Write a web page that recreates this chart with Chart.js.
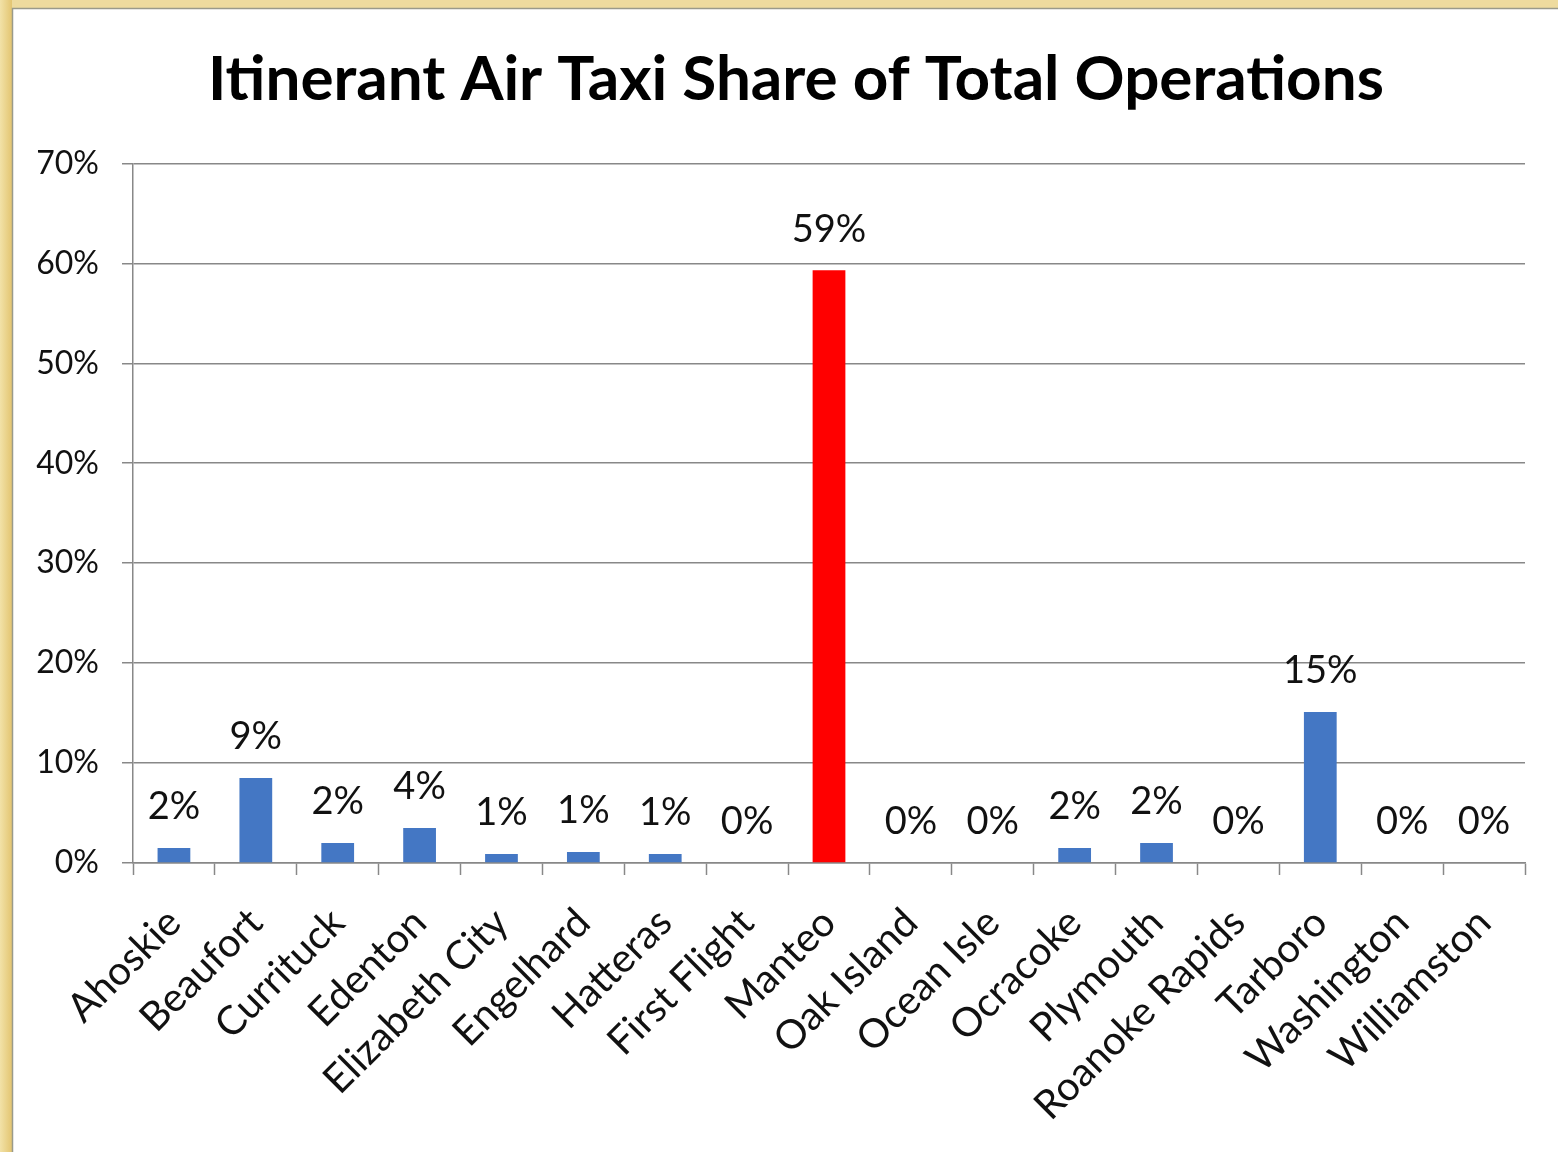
<!DOCTYPE html>
<html>
<head>
<meta charset="utf-8">
<script src="https://cdn.jsdelivr.net/npm/chart.js@4/dist/chart.umd.min.js"></script>
<style>
  html, body { margin: 0; padding: 0; background: #ecd596; }
  #wrap { width: 1558px; height: 1152px; position: relative; }
  canvas { display: block; }
</style>
</head>
<body>
<div id="wrap"><canvas id="c" width="1558" height="1152"></canvas></div>
<script>
// ---- data ----
const categories = ['Ahoskie','Beaufort','Currituck','Edenton','Elizabeth City','Engelhard','Hatteras','First Flight','Manteo','Oak Island','Ocean Isle','Ocracoke','Plymouth','Roanoke Rapids','Tarboro','Washington','Williamston'];
const shares = [1.5, 8.5, 2.0, 3.5, 0.9, 1.1, 0.9, 0, 59.3, 0, 0, 1.5, 2.0, 0, 15.1, 0, 0];
const yTicks = [0, 10, 20, 30, 40, 50, 60, 70];
const chartTitle = 'Itinerant Air Taxi Share of Total Operations';
const highlighted = 'Manteo';

// ---- styles ----
const BLUE = '#4477c4';
const RED = '#ff0000';
const GRID = '#888888';

const framePlugin = {
  id: 'frame',
  beforeDraw(chart) {
    const ctx = chart.ctx;
    ctx.save();
    const g = ctx.createLinearGradient(0, 0, 12, 0);
    g.addColorStop(0, '#f2e2a8');
    g.addColorStop(1, '#e3c571');
    ctx.fillStyle = '#eedb9e';
    ctx.fillRect(0, 0, chart.width, chart.height);
    ctx.fillStyle = g;
    ctx.fillRect(0, 0, 12, chart.height);
    ctx.fillStyle = '#ffffff';
    ctx.fillRect(12, 8, chart.width - 12, chart.height - 8);
    ctx.strokeStyle = '#9a9a8a';
    ctx.lineWidth = 1.5;
    ctx.beginPath();
    ctx.moveTo(12.5, chart.height);
    ctx.lineTo(12.5, 8.5);
    ctx.lineTo(chart.width, 8.5);
    ctx.stroke();
    ctx.restore();
  }
};

const labelPlugin = {
  id: 'barLabels',
  afterDatasetsDraw(chart) {
    const ctx = chart.ctx;
    const meta = chart.getDatasetMeta(0);
    const vals = chart.data.datasets[0].data;
    ctx.save();
    ctx.font = '38px Lato';
    ctx.fillStyle = '#111';
    ctx.textAlign = 'center';
    ctx.textBaseline = 'middle';
    meta.data.forEach((el, i) => {
      ctx.fillText(Math.round(vals[i]) + '%', el.x, el.y - 41);
    });
    ctx.restore();
  }
};

new Chart(document.getElementById('c'), {
  type: 'bar',
  data: {
    labels: categories,
    datasets: [{
      data: shares,
      backgroundColor: categories.map(c => c === highlighted ? RED : BLUE),
      barPercentage: 0.4,
      categoryPercentage: 1.0,
      borderWidth: 0
    }]
  },
  options: {
    responsive: false,
    animation: false,
    layout: { padding: { left: 34, right: 0, top: 0, bottom: 0 } },
    plugins: {
      legend: { display: false },
      tooltip: { enabled: false },
      title: {
        display: true,
        text: chartTitle,
        color: '#000',
        font: { family: 'Lato', size: 62, weight: 'bold' },
        padding: { top: 43, bottom: 46 }
      }
    },
    scales: {
      x: {
        afterFit(scale) { scale.height = 289; },
        grid: { display: true, drawOnChartArea: false, drawTicks: true, tickLength: 12, tickColor: GRID, tickWidth: 1.5, offset: true },
        border: { display: true, color: GRID, width: 1.5 },
        ticks: {
          color: '#111',
          font: { family: 'Lato', size: 40 },
          minRotation: 45, maxRotation: 45,
          autoSkip: false,
          padding: 24
        }
      },
      y: {
        min: 0, max: 70,
        afterFit(scale) { scale.width = 99; },
        afterBuildTicks(scale) { scale.ticks = yTicks.map(v => ({ value: v })); },
        grid: { color: GRID, lineWidth: 1.5, drawTicks: true, tickLength: 11, tickColor: GRID },
        border: { display: true, color: GRID, width: 1.5 },
        ticks: {
          color: '#111',
          font: { family: 'Lato', size: 32 },
          padding: 23,
          callback: v => v + '%'
        }
      },
      spacer: {
        type: 'linear',
        position: 'right',
        display: true,
        afterFit(scale) { scale.width = 33; },
        grid: { display: false, drawTicks: false },
        border: { display: false },
        ticks: { display: false }
      }
    }
  },
  plugins: [framePlugin, labelPlugin]
});
</script>
</body>
</html>
